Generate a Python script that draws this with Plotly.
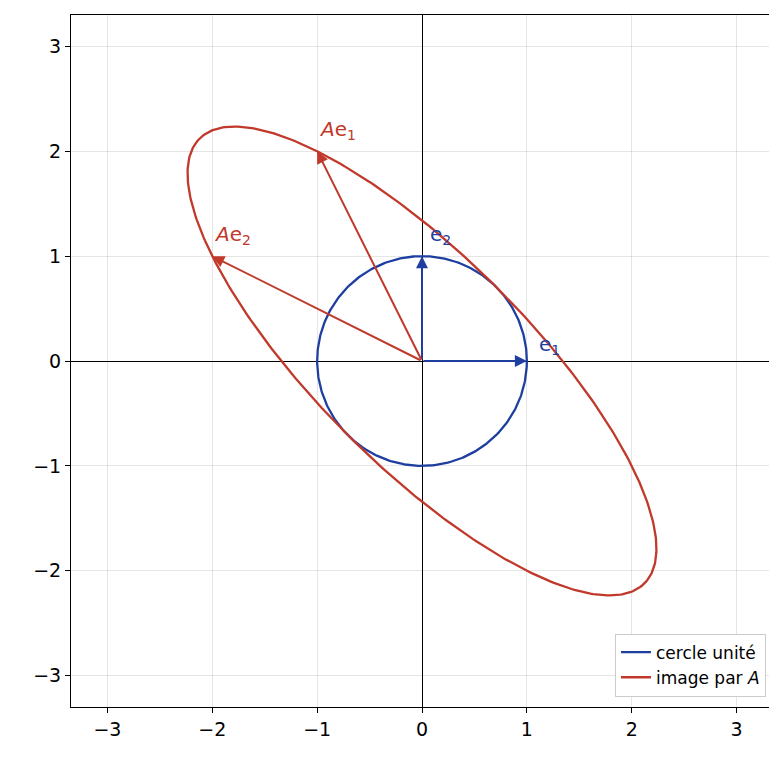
import numpy as np
import plotly.graph_objects as go

A = [[-1.0, -2.0], [2.0, 1.0]]
e1 = [1.0, 0.0]
e2 = [0.0, 1.0]
ticks = [-3, -2, -1, 0, 1, 2, 3]

t = np.linspace(0, 2*np.pi, 400)
cx, cy = np.cos(t), np.sin(t)
M = np.array(A)
ex = M[0, 0]*cx + M[0, 1]*cy
ey = M[1, 0]*cx + M[1, 1]*cy
Ae1 = M @ np.array(e1)
Ae2 = M @ np.array(e2)

blue = "#1f3fa0"
red = "#c0392b"

fig = go.Figure()
fig.add_trace(go.Scatter(x=cx, y=cy, mode="lines", line=dict(color=blue, width=2.3), name="cercle unité"))
fig.add_trace(go.Scatter(x=ex, y=ey, mode="lines", line=dict(color=red, width=2.3), name="image par <i>A</i>"))

def arrow(v, color):
    fig.add_annotation(x=v[0], y=v[1], ax=0, ay=0, xref="x", yref="y", axref="x", ayref="y",
                       showarrow=True, arrowhead=2, arrowsize=1.2, arrowwidth=2, arrowcolor=color, text="",
                       standoff=0)

arrow(e1, blue); arrow(e2, blue); arrow(Ae1, red); arrow(Ae2, red)
labels = [(e1, "e<sub>1</sub>", blue, 0.1, 0.15), (e2, "e<sub>2</sub>", blue, 0.06, 0.2),
          (Ae1, "<i>A</i>e<sub>1</sub>", red, 0.0, 0.2), (Ae2, "<i>A</i>e<sub>2</sub>", red, 0.0, 0.2)]
for v, txt, c, dx, dy in labels:
    fig.add_annotation(x=v[0]+dx, y=v[1]+dy, text=txt, showarrow=False, xanchor="left", yanchor="middle",
                       font=dict(color=c, size=20))

axis = dict(range=[-3.3, 3.3], tickvals=ticks, showgrid=True, gridcolor="rgba(0,0,0,0.1)",
            zeroline=True, zerolinecolor="black", zerolinewidth=1, showline=True, mirror=True,
            linecolor="black", ticks="outside", tickcolor="black", tickfont=dict(size=19, color="black"))
fig.update_layout(width=777, height=764, plot_bgcolor="white", paper_bgcolor="white",
                  margin=dict(l=63, r=12, t=7, b=65),
                  font=dict(family="DejaVu Sans", color="black"),
                  xaxis=axis, yaxis=dict(axis, scaleanchor="x", scaleratio=1),
                  legend=dict(x=0.99, y=0.015, xanchor="right", yanchor="bottom", bgcolor="white",
                              bordercolor="#ccc", borderwidth=1, font=dict(size=17, color="black")))
fig.write_html("out.html")
